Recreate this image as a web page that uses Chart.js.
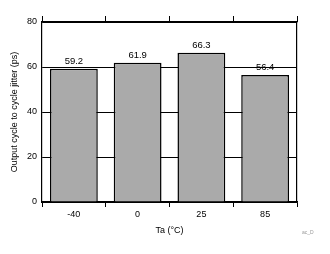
<!DOCTYPE html>
<html>
<head>
<meta charset="utf-8">
<script src="https://cdn.jsdelivr.net/npm/chart.js@4/dist/chart.umd.min.js"></script>
<style>
  html, body { margin: 0; padding: 0; background: #fff; }
  #wrap { width: 330px; height: 254px; }
</style>
</head>
<body>
<div id="wrap"><canvas id="myChart" width="330" height="254"></canvas></div>
<script>
// chart data
const temps = ['-40', '0', '25', '85'];
const jitter = [59.2, 61.9, 66.3, 56.4];
const yTicks = [0, 20, 40, 60, 80];

const fontFam = "Arial, 'Liberation Sans', sans-serif";

// value labels above each bar
const barLabels = {
    id: 'barLabels',
    afterDatasetsDraw(chart) {
        const ctx = chart.ctx;
        const meta = chart.getDatasetMeta(0);
        ctx.save();
        ctx.font = '9.5px ' + fontFam;
        ctx.fillStyle = '#000';
        ctx.textAlign = 'center';
        ctx.textBaseline = 'bottom';
        meta.data.forEach((bar, i) => {
            ctx.fillText(jitter[i].toFixed(1), bar.x, bar.y - 3);
        });
        // small figure id at bottom right
        ctx.font = '5px ' + fontFam;
        ctx.fillStyle = '#999';
        ctx.textAlign = 'left';
        ctx.textBaseline = 'middle';
        ctx.fillText('ac_D', 302, 233);
        ctx.restore();
    }
};

var ctx = document.getElementById('myChart').getContext('2d');
var myChart = new Chart(ctx, {
    type: 'bar',
    data: {
        labels: temps,
        datasets: [{
            data: jitter,
            backgroundColor: '#aaaaaa',
            borderColor: '#000',
            borderWidth: 1.5,
            borderSkipped: 'start',
            barPercentage: 0.75,
            categoryPercentage: 1
        }]
    },
    options: {
        responsive: false,
        animation: false,
        layout: { padding: { left: 5, right: 33, top: 16, bottom: 14 } },
        plugins: { legend: { display: false }, tooltip: { enabled: false } },
        scales: {
            x: {
                position: 'bottom',
                grid: { offset: true, drawOnChartArea: false, color: '#000', tickLength: 5 },
                border: { color: '#000', width: 1.2 },
                ticks: { color: '#000', font: { size: 9, family: fontFam }, padding: 2 },
                title: { display: true, text: 'Ta (°C)', color: '#000', font: { size: 9, family: fontFam }, padding: 4 },
                afterFit(scale) { scale.height = 38; }
            },
            xTop: {
                type: 'category',
                labels: temps,
                position: 'top',
                grid: { offset: true, drawOnChartArea: false, color: '#000', tickLength: 6 },
                border: { color: '#000', width: 1.2 },
                ticks: { display: false },
                afterFit(scale) { scale.height = 6; }
            },
            y: {
                min: 0,
                max: 80,
                afterBuildTicks(scale) { scale.ticks = yTicks.map(v => ({ value: v })); },
                grid: { color: '#000', lineWidth: 1, drawTicks: false },
                border: { color: '#000', width: 1.2 },
                ticks: { color: '#000', font: { size: 9, family: fontFam }, padding: 5 },
                title: { display: true, text: 'Output cycle to cycle jitter (ps)', color: '#000', font: { size: 9, family: fontFam }, padding: 4 },
                afterFit(scale) { scale.width = 37; }
            },
            yRight: {
                position: 'right',
                min: 0,
                max: 80,
                grid: { display: false, drawTicks: false },
                border: { color: '#000', width: 1.2 },
                ticks: { display: false },
                afterFit(scale) { scale.width = 0; }
            }
        }
    },
    plugins: [barLabels]
});
</script>
</body>
</html>
